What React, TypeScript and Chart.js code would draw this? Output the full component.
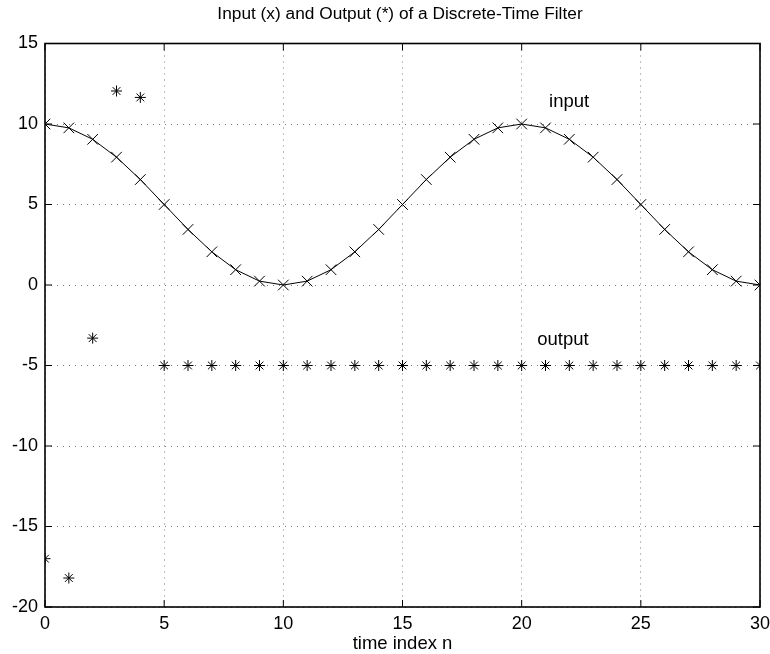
import { useEffect, useRef } from "react";
import { Chart, registerables } from "chart.js";

Chart.register(...registerables);

const timeIndex = [0, 1, 2, 3, 4, 5, 6, 7, 8, 9, 10, 11, 12, 13, 14, 15, 16, 17, 18, 19, 20, 21, 22, 23, 24, 25, 26, 27, 28, 29, 30];
const inputValues = [10, 9.76, 9.05, 7.94, 6.55, 5, 3.45, 2.06, 0.95, 0.24, 0, 0.24, 0.95, 2.06, 3.45, 5, 6.55, 7.94, 9.05, 9.76, 10, 9.76, 9.05, 7.94, 6.55, 5, 3.45, 2.06, 0.95, 0.24, 0];
const outputValues = [-17, -18.2, -3.3, 12.05, 11.65, -5, -5, -5, -5, -5, -5, -5, -5, -5, -5, -5, -5, -5, -5, -5, -5, -5, -5, -5, -5, -5, -5, -5, -5, -5, -5];
const xTickValues = [0, 5, 10, 15, 20, 25, 30];
const yTickValues = [-20, -15, -10, -5, 0, 5, 10, 15];
const titleText = "Input (x) and Output (*) of a Discrete-Time Filter";
const xAxisLabel = "time index n";
const labelTexts = ["input", "output"];
const labelX = [21.15, 20.65];
const labelY = [11.4, -3.4];

const FONT = "'Liberation Sans', Arial, Helvetica, sans-serif";

const framePlugin = {
  id: "matlabFrame",
  afterDatasetsDraw(chart: any) {
    const { ctx, chartArea } = chart;
    const xs = chart.scales.x;
    const ys = chart.scales.y;
    const { left, right, top, bottom } = chartArea;
    ctx.save();
    ctx.strokeStyle = "#000";
    ctx.lineWidth = 1.6;
    ctx.strokeRect(left, top, right - left, bottom - top);
    ctx.lineWidth = 1;
    const tl = 7;
    ctx.beginPath();
    xTickValues.forEach((v) => {
      const px = xs.getPixelForValue(v);
      ctx.moveTo(px, bottom);
      ctx.lineTo(px, bottom - tl);
      ctx.moveTo(px, top);
      ctx.lineTo(px, top + tl);
    });
    yTickValues.forEach((v) => {
      const py = ys.getPixelForValue(v);
      ctx.moveTo(left, py);
      ctx.lineTo(left + tl, py);
      ctx.moveTo(right, py);
      ctx.lineTo(right - tl, py);
    });
    ctx.stroke();

    ctx.fillStyle = "#000";
    ctx.font = `18.5px ${FONT}`;
    ctx.textAlign = "left";
    ctx.textBaseline = "middle";
    labelTexts.forEach((t, i) => {
      ctx.fillText(t, xs.getPixelForValue(labelX[i]), ys.getPixelForValue(labelY[i]));
    });

    ctx.textAlign = "center";
    ctx.font = `17.3px ${FONT}`;
    ctx.fillText(titleText, 400, 14);
    ctx.font = `18.5px ${FONT}`;
    ctx.fillText(xAxisLabel, (left + right) / 2, 644);
    ctx.restore();
  },
};

export default function App() {
  const canvasRef = useRef<HTMLCanvasElement | null>(null);

  useEffect(() => {
    const canvas = canvasRef.current;
    if (!canvas) return;
    const inputPoints = timeIndex.map((n, i) => ({ x: n, y: inputValues[i] }));
    const outputPoints = timeIndex.map((n, i) => ({ x: n, y: outputValues[i] }));
    const gridOpts = {
      color: "#7a7a7a",
      lineWidth: 1,
      drawTicks: false,
    };
    const chart = new Chart(canvas, {
      type: "scatter",
      data: {
        datasets: [
          {
            label: "input",
            data: inputPoints,
            showLine: true,
            borderColor: "#000",
            borderWidth: 1,
            pointStyle: "crossRot",
            pointRadius: 7.5,
            pointBorderColor: "#000",
            pointBorderWidth: 1,
            backgroundColor: "#000",
            tension: 0,
          },
          {
            label: "output",
            data: outputPoints,
            showLine: false,
            pointStyle: "star",
            pointRadius: 5.5,
            pointBorderColor: "#000",
            pointBorderWidth: 1,
            borderColor: "#000",
            backgroundColor: "#000",
          },
        ],
      },
      options: {
        responsive: false,
        animation: false,
        devicePixelRatio: 1,
        layout: { padding: { top: 43.5, right: 10, left: 0, bottom: 0 } },
        plugins: {
          legend: { display: false },
          tooltip: { enabled: false },
          title: { display: false },
        },
        scales: {
          x: {
            type: "linear",
            min: 0,
            max: 30,
            afterBuildTicks: (scale: any) => {
              scale.ticks = xTickValues.map((v) => ({ value: v }));
            },
            afterFit: (scale: any) => {
              scale.height = 47;
              scale.paddingLeft = 0;
              scale.paddingRight = 0;
            },
            ticks: {
              color: "#000",
              font: { family: FONT, size: 18 },
              padding: 6,
              maxRotation: 0,
            },
            grid: { ...gridOpts } as any,
            border: { display: false, dash: [1, 5] },
          },
          y: {
            type: "linear",
            min: -20,
            max: 15,
            afterBuildTicks: (scale: any) => {
              scale.ticks = yTickValues.map((v) => ({ value: v }));
            },
            afterFit: (scale: any) => {
              scale.width = 45;
              scale.paddingTop = 0;
              scale.paddingBottom = 0;
            },
            ticks: {
              color: "#000",
              font: { family: FONT, size: 18 },
              padding: 7,
            },
            grid: { ...gridOpts } as any,
            border: { display: false, dash: [1, 5] },
          },
        },
      },
      plugins: [framePlugin],
    } as any);
    return () => chart.destroy();
  }, []);

  return (
    <div style={{ position: "absolute", left: 0, top: 0, width: 770, height: 654, background: "#fff" }}>
      <canvas ref={canvasRef} width={770} height={654} style={{ width: 770, height: 654, display: "block" }} />
    </div>
  );
}
